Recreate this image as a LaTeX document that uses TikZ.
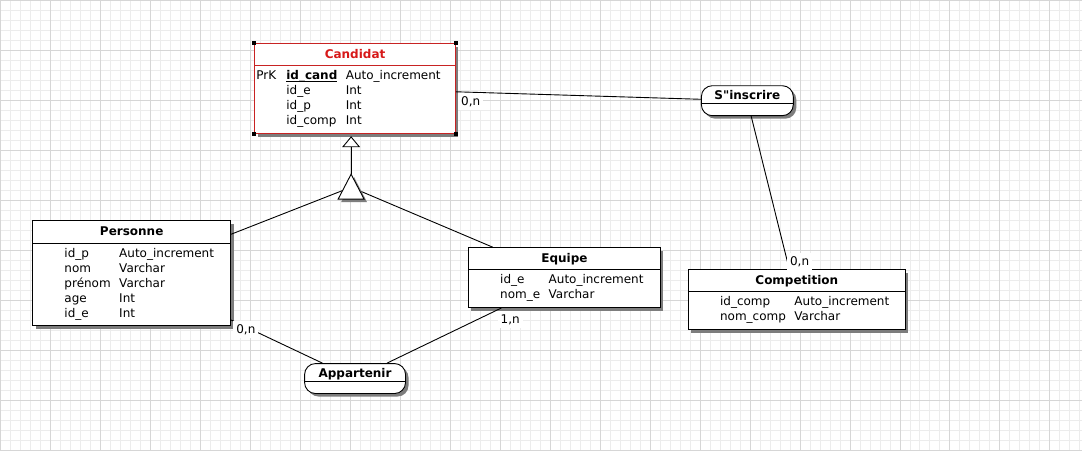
\documentclass[tikz,border=0pt]{standalone}
\usepackage{fontspec}
\newfontfamily\erfamily{DejaVu Sans}
\usetikzlibrary{arrows.meta,shadows,calc,positioning}

\definecolor{gridminor}{RGB}{236,236,236}
\definecolor{gridmajor}{RGB}{214,214,214}
\definecolor{candborder}{RGB}{200,35,35}
\definecolor{candtitle}{RGB}{215,25,25}
\definecolor{shade}{RGB}{125,125,125}

\tikzset{
  every node/.style={font=\erfamily\fontsize{12}{15}\selectfont},
  entity/.style={draw, fill=white, anchor=north west, inner sep=0pt, line width=0.9pt,
    drop shadow={shadow xshift=3pt, shadow yshift=-3pt, fill=shade, opacity=1}},
  relation/.style={entity, rounded corners=11pt},
  etitle/.style={anchor=base, inner sep=0pt, font=\erfamily\fontsize{12}{15}\selectfont\bfseries},
  attrs/.style={anchor=north west, inner sep=0pt},
  card/.style={anchor=base west, fill=white, inner sep=3pt},
  link/.style={line width=0.9pt},
}

\begin{document}
\begin{tikzpicture}[x=1pt, y=-1pt]
  %grid
  \fill[white] (0,0) rectangle (1082,450);
  \draw[gridminor, line width=0.6pt, step=10pt] (0,450) grid (1082,0);
  \draw[gridmajor, line width=0.6pt, step=50pt] (0,450) grid (1082,0);
  \useasboundingbox (0,0) rectangle (1082,450);

  %entities
  \node[entity, draw=candborder, minimum width=201pt, minimum height=90pt] (candidat) at (254,43) {};
  \node[etitle, text=candtitle] (candidat-t) at ($(candidat.north)+(0,15.5)$) {Candidat};
  \draw[candborder, line width=0.9pt] ($(candidat.north west)+(0,22)$) -- ($(candidat.north east)+(0,22)$);
  \node[attrs] (candidat-a) at ($(candidat.north west)+(2,25.5)$) {%
    \begin{tabular}{@{}p{30pt}@{}l@{\hspace{8.5pt}}l@{}}
      PrK & \underline{\raisebox{0pt}[\height][0pt]{\textbf{id\_cand}}} & Auto\_increment\\
          & id\_e & Int\\
          & id\_p & Int\\
          & id\_comp & Int
    \end{tabular}};
  \foreach \c in {north west, north east, south west, south east}
    \fill ([shift={(-2,-2)}]candidat.\c) rectangle ++(4,4);

  \node[entity, minimum width=198pt, minimum height=105pt] (personne) at (32,220) {};
  \node[etitle] (personne-t) at ($(personne.north)+(0,15.5)$) {Personne};
  \draw[line width=0.9pt] ($(personne.north west)+(0,23)$) -- ($(personne.north east)+(0,23)$);
  \node[attrs] (personne-a) at ($(personne.north west)+(2,26.5)$) {%
    \begin{tabular}{@{}p{30pt}@{}l@{\hspace{8.5pt}}l@{}}
      & id\_p & Auto\_increment\\
      & nom & Varchar\\
      & prénom & Varchar\\
      & age & Int\\
      & id\_e & Int
    \end{tabular}};

  \node[entity, minimum width=192pt, minimum height=60pt] (equipe) at (468,247) {};
  \node[etitle] (equipe-t) at ($(equipe.north)+(0,15.5)$) {Equipe};
  \draw[line width=0.9pt] ($(equipe.north west)+(0,22)$) -- ($(equipe.north east)+(0,22)$);
  \node[attrs] (equipe-a) at ($(equipe.north west)+(2,25.5)$) {%
    \begin{tabular}{@{}p{30pt}@{}l@{\hspace{8.5pt}}l@{}}
      & id\_e & Auto\_increment\\
      & nom\_e & Varchar
    \end{tabular}};

  \node[entity, minimum width=217pt, minimum height=60pt] (competition) at (688,269) {};
  \node[etitle] (competition-t) at ($(competition.north)+(0,15.5)$) {Competition};
  \draw[line width=0.9pt] ($(competition.north west)+(0,22)$) -- ($(competition.north east)+(0,22)$);
  \node[attrs] (competition-a) at ($(competition.north west)+(2,25.5)$) {%
    \begin{tabular}{@{}p{30pt}@{}l@{\hspace{8.5pt}}l@{}}
      & id\_comp & Auto\_increment\\
      & nom\_comp & Varchar
    \end{tabular}};

  %relations
  \node[relation, minimum width=92pt, minimum height=30pt] (sinscrire) at (701,85) {};
  \node[etitle] (sinscrire-t) at ($(sinscrire.north)+(0,14)$) {S"inscrire};
  \draw[line width=0.9pt] ($(sinscrire.north west)+(0,18)$) -- ($(sinscrire.north east)+(0,18)$);

  \node[relation, minimum width=101pt, minimum height=30pt] (appartenir) at (304,363) {};
  \node[etitle] (appartenir-t) at ($(appartenir.north)+(0,14)$) {Appartenir};
  \draw[line width=0.9pt] ($(appartenir.north west)+(0,18)$) -- ($(appartenir.north east)+(0,18)$);

  %links
  \draw[link] (candidat) -- (sinscrire);
  \draw[link] (sinscrire) -- (competition);
  \draw[link] (personne) -- (appartenir);
  \draw[link] (equipe) -- (appartenir);

  %inheritance
  \coordinate (isa) at (351,187);
  \coordinate (isa-top) at (351,174);
  \coordinate (isa-tip) at (351,136);
  \draw[link] (personne) -- (isa);
  \draw[link] (equipe) -- (isa);
  \filldraw[link, fill=white, drop shadow={shadow xshift=3pt, shadow yshift=-3pt, fill=shade, opacity=1}]
    (isa-top) -- ++(-13,25) -- ++(26,0) -- cycle;
  \draw[link, -{Triangle[length=11pt, width=18pt, fill=white]}] (isa-top) -- (isa-tip);

  %cardinalities
  \node[card] (card-cand) at (458,105) {0,n};
  \node[card] (card-comp) at (787,265) {0,n};
  \node[card] (card-pers) at (233,333) {0,n};
  \node[card] (card-equi) at (497.5,323) {1,n};
\end{tikzpicture}
\end{document}
